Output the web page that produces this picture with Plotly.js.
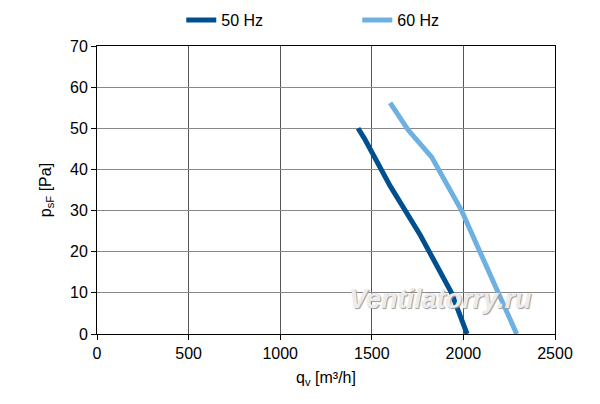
<!DOCTYPE html>
<html>
<head>
<meta charset="utf-8">
<script src="https://cdn.plot.ly/plotly-3.0.1.min.js"></script>
<style>
  html, body { margin: 0; padding: 0; background: #fff; }
  #chart { width: 600px; height: 404px; }
</style>
</head>
<body>
<div id="chart"></div>
<script>
// fan curves
const flow50 = [1425, 1460, 1600, 1765, 1850, 1935, 2020];
const press50 = [50, 47.5, 36, 24, 17, 10, 0];

const flow60 = [1600, 1700, 1827, 1863, 1990, 2090, 2190, 2291];
const press60 = [56.2, 49.5, 43, 40, 30, 20, 10, 0];

const xTicks = [0, 500, 1000, 1500, 2000, 2500];
const yTicks = [0, 10, 20, 30, 40, 50, 60, 70];

const font = "'Liberation Sans', Arial, sans-serif";

var data = [
  {
    x: flow50, y: press50, name: "50 Hz",
    mode: "lines", type: "scatter",
    line: { color: "#00508f", width: 5 }
  },
  {
    x: flow60, y: press60, name: "60 Hz",
    mode: "lines", type: "scatter",
    line: { color: "#6eb0e2", width: 5 }
  }
];

var layout = {
  width: 600, height: 404,
  margin: { l: 97, r: 45, t: 46, b: 70, autoexpand: false },
  paper_bgcolor: "#fff", plot_bgcolor: "#fff",
  font: { family: font, size: 16, color: "#000" },
  showlegend: true,
  legend: {
    orientation: "h",
    x: 0.184, xanchor: "left",
    y: 1.09, yanchor: "middle",
    entrywidth: 131, entrywidthmode: "pixels",
    font: { family: font, size: 16, color: "#000" }
  },
  xaxis: {
    range: [0, 2500],
    tickvals: xTicks,
    ticks: "outside", ticklen: 5, tickcolor: "#000",
    showline: true, linecolor: "#000", linewidth: 1, mirror: true,
    showgrid: true, gridcolor: "#555", gridwidth: 1,
    zeroline: false,
    title: { text: "q<sub>v</sub> [m³/h]", font: { family: font, size: 16 }, standoff: 10 }
  },
  yaxis: {
    range: [0, 70],
    tickvals: yTicks,
    ticks: "outside", ticklen: 5, tickcolor: "#000",
    showline: true, linecolor: "#000", linewidth: 1, mirror: true,
    showgrid: true, gridcolor: "#888", gridwidth: 1,
    zeroline: false,
    title: { text: "p<sub>sF</sub> [Pa]", font: { family: font, size: 16 }, standoff: 14 }
  },
  annotations: [
    {
      text: "<b><i>Ventilatorry.ru</i></b>",
      xref: "paper", yref: "paper",
      x: 0.749, y: 0.12, xanchor: "center", yanchor: "middle",
      showarrow: false,
      font: { family: font, size: 27, color: "#ececec", shadow: "1px 1px 1px #9a9a9a" }
    }
  ]
};

Plotly.newPlot("chart", data, layout, { displayModeBar: false, staticPlot: true });
</script>
</body>
</html>
